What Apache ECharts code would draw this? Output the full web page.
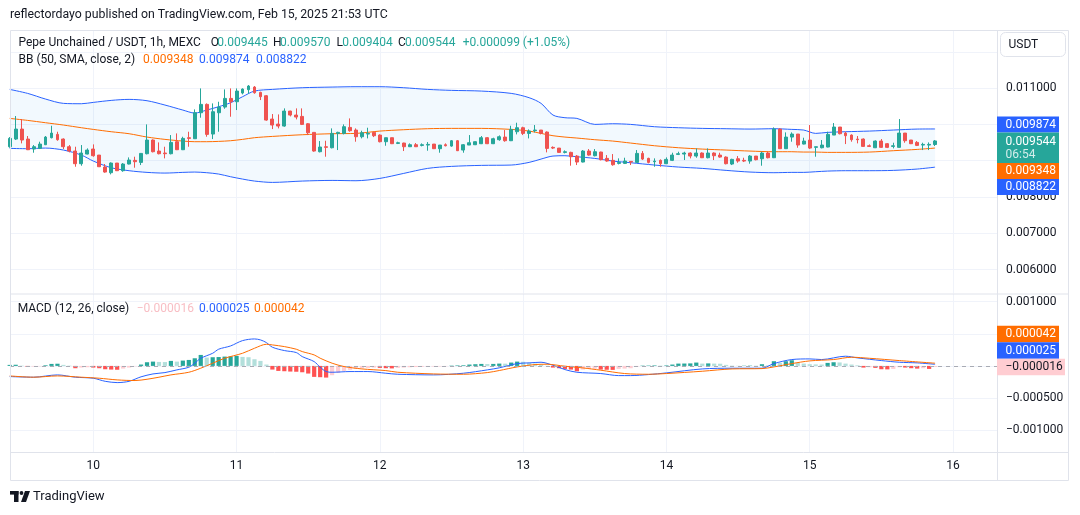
<!DOCTYPE html>
<html>
<head>
<meta charset="utf-8">
<title>Pepe Unchained / USDT, 1h, MEXC</title>
<script src="https://cdn.jsdelivr.net/npm/echarts@6/dist/echarts.min.js"></script>
<style>
html, body { margin: 0; padding: 0; background: #fff; }
#chart { width: 1080px; height: 515px; }
</style>
</head>
<body>
<div id="chart"></div>
<script>
// hours counted from Feb 10, 00:00; first candle is Feb 9, 10:00
const firstHour = -14;
const dayHours = [0, 24, 48, 72, 96, 120, 144];
const dayLabels = ['10', '11', '12', '13', '14', '15', '16'];
const priceTicks = [0.006, 0.007, 0.008, 0.009, 0.010, 0.011, 0.012];
const macdTicks = [-0.001, -0.0005, 0, 0.0005, 0.001];

const opens = [
  0.009385, 0.009596, 0.009871, 0.009596, 0.009321, 0.009339, 0.009440, 0.009633, 0.009725, 0.009596,
  0.009385, 0.009266, 0.008917, 0.009183, 0.009321, 0.009155, 0.008825, 0.008669, 0.008935, 0.008724,
  0.008908, 0.009009, 0.008953, 0.009192, 0.009569, 0.009266, 0.009211, 0.009192, 0.009523, 0.009302,
  0.009633, 0.009605, 0.010321, 0.010551, 0.009734, 0.010321, 0.010477, 0.010716, 0.010624, 0.010863,
  0.010955, 0.011028, 0.010881, 0.010789, 0.010147, 0.010009, 0.009954, 0.010367, 0.010257, 0.010220,
  0.010018, 0.009780, 0.009247, 0.009385, 0.009357, 0.009752, 0.009752, 0.009917, 0.009844, 0.009660,
  0.009734, 0.009780, 0.009706, 0.009523, 0.009633, 0.009477, 0.009486, 0.009385, 0.009440, 0.009422,
  0.009431, 0.009458, 0.009330, 0.009440, 0.009403, 0.009550, 0.009293, 0.009431, 0.009440, 0.009468,
  0.009633, 0.009468, 0.009578, 0.009651, 0.009550, 0.009798, 0.009908, 0.009752, 0.009826, 0.009844,
  0.009789, 0.009367, 0.009348, 0.009229, 0.009229, 0.009128, 0.008963, 0.009266, 0.009137, 0.009238,
  0.009064, 0.009009, 0.008926, 0.008926, 0.008981, 0.008953, 0.009201, 0.009064, 0.008972, 0.009009,
  0.008917, 0.009009, 0.009174, 0.009183, 0.009211, 0.009128, 0.009211, 0.009082, 0.009211, 0.009155,
  0.009100, 0.008908, 0.009054, 0.009009, 0.008990, 0.009128, 0.009054, 0.009211, 0.009082, 0.009871,
  0.009330, 0.009651, 0.009734, 0.009458, 0.009569, 0.009367, 0.009357, 0.009376, 0.009706, 0.009927,
  0.009761, 0.009706, 0.009596, 0.009596, 0.009412, 0.009357, 0.009541, 0.009468, 0.009394, 0.009367,
  0.009761, 0.009569, 0.009504, 0.009431, 0.009431, 0.009445
];
const closes = [
  0.009614, 0.009871, 0.009569, 0.009302, 0.009385, 0.009458, 0.009651, 0.009761, 0.009578, 0.009385,
  0.009266, 0.008917, 0.009211, 0.009293, 0.009137, 0.008834, 0.008687, 0.008935, 0.008724, 0.008908,
  0.009018, 0.008972, 0.009201, 0.009569, 0.009247, 0.009192, 0.009192, 0.009504, 0.009302, 0.009614,
  0.009614, 0.010321, 0.010551, 0.009725, 0.010349, 0.010477, 0.010716, 0.010624, 0.010918, 0.010973,
  0.011056, 0.010872, 0.010762, 0.010119, 0.009982, 0.009954, 0.010367, 0.010257, 0.010202, 0.010000,
  0.009770, 0.009266, 0.009376, 0.009367, 0.009752, 0.009780, 0.009936, 0.009826, 0.009660, 0.009770,
  0.009752, 0.009688, 0.009523, 0.009633, 0.009468, 0.009495, 0.009385, 0.009440, 0.009385, 0.009440,
  0.009449, 0.009330, 0.009431, 0.009412, 0.009550, 0.009275, 0.009440, 0.009495, 0.009523, 0.009633,
  0.009468, 0.009605, 0.009660, 0.009550, 0.009862, 0.009908, 0.009752, 0.009816, 0.009844, 0.009752,
  0.009339, 0.009348, 0.009229, 0.009247, 0.009110, 0.008963, 0.009266, 0.009155, 0.009247, 0.009027,
  0.008990, 0.008889, 0.008953, 0.008990, 0.008963, 0.009201, 0.009045, 0.008953, 0.008990, 0.008917,
  0.009036, 0.009155, 0.009192, 0.009211, 0.009128, 0.009211, 0.009082, 0.009211, 0.009137, 0.009100,
  0.008917, 0.009036, 0.008990, 0.008990, 0.009128, 0.009027, 0.009211, 0.009082, 0.009871, 0.009330,
  0.009651, 0.009734, 0.009431, 0.009541, 0.009348, 0.009385, 0.009431, 0.009725, 0.009927, 0.009743,
  0.009688, 0.009578, 0.009578, 0.009394, 0.009394, 0.009541, 0.009367, 0.009367, 0.009412, 0.009761,
  0.009550, 0.009468, 0.009422, 0.009449, 0.009449, 0.009544
];
const lows = [
  0.009357, 0.009569, 0.009477, 0.009293, 0.009220, 0.009321, 0.009431, 0.009614, 0.009550, 0.009321,
  0.009229, 0.008834, 0.008862, 0.009174, 0.009110, 0.008825, 0.008669, 0.008623, 0.008715, 0.008696,
  0.008898, 0.008807, 0.008880, 0.009174, 0.009229, 0.009174, 0.009064, 0.009174, 0.009293, 0.009293,
  0.009385, 0.009605, 0.010184, 0.009660, 0.009596, 0.009798, 0.010431, 0.010211, 0.010395, 0.010826,
  0.010845, 0.010845, 0.010670, 0.010101, 0.009871, 0.009890, 0.009936, 0.010220, 0.010138, 0.009982,
  0.009706, 0.009247, 0.009229, 0.009110, 0.009339, 0.009293, 0.009725, 0.009798, 0.009523, 0.009614,
  0.009614, 0.009651, 0.009504, 0.009412, 0.009458, 0.009458, 0.009266, 0.009376, 0.009376, 0.009394,
  0.009275, 0.009321, 0.009220, 0.009394, 0.009385, 0.009266, 0.009220, 0.009431, 0.009431, 0.009458,
  0.009458, 0.009458, 0.009550, 0.009523, 0.009541, 0.009725, 0.009706, 0.009614, 0.009780, 0.009725,
  0.009229, 0.009321, 0.009220, 0.009201, 0.008862, 0.008880, 0.008953, 0.009137, 0.009119, 0.009009,
  0.008972, 0.008862, 0.008898, 0.008908, 0.008880, 0.008944, 0.009018, 0.008926, 0.008834, 0.008834,
  0.008908, 0.008990, 0.009155, 0.009018, 0.009064, 0.009082, 0.009073, 0.009064, 0.009018, 0.009082,
  0.008898, 0.008880, 0.008944, 0.008963, 0.008917, 0.009009, 0.008862, 0.009064, 0.009073, 0.009321,
  0.009321, 0.009523, 0.009357, 0.009449, 0.009321, 0.009110, 0.009339, 0.009367, 0.009706, 0.009725,
  0.009458, 0.009523, 0.009477, 0.009385, 0.009376, 0.009348, 0.009357, 0.009348, 0.009339, 0.009357,
  0.009495, 0.009458, 0.009403, 0.009293, 0.009293, 0.009404
];
const highs = [
  0.009651, 0.010230, 0.010147, 0.009679, 0.009431, 0.009523, 0.009679, 0.009963, 0.009798, 0.009614,
  0.009431, 0.009385, 0.009431, 0.009339, 0.009449, 0.009155, 0.008908, 0.008953, 0.008935, 0.008935,
  0.009091, 0.009110, 0.009211, 0.010000, 0.009587, 0.009504, 0.009385, 0.009706, 0.009752, 0.009660,
  0.009798, 0.010413, 0.010991, 0.010578, 0.010578, 0.010624, 0.010964, 0.010991, 0.010991, 0.010991,
  0.011083, 0.011056, 0.010900, 0.010808, 0.010285, 0.010275, 0.010441, 0.010376, 0.010441, 0.010441,
  0.010037, 0.009780, 0.009541, 0.009550, 0.009890, 0.009798, 0.010000, 0.010165, 0.009890, 0.009826,
  0.009908, 0.009798, 0.009725, 0.009633, 0.009633, 0.009523, 0.009495, 0.009477, 0.009486, 0.009477,
  0.009513, 0.009458, 0.009431, 0.009477, 0.009569, 0.009569, 0.009458, 0.009706, 0.009532, 0.009679,
  0.009651, 0.009633, 0.009697, 0.009844, 0.009963, 0.010046, 0.009936, 0.009862, 0.009982, 0.009844,
  0.009807, 0.009394, 0.009348, 0.009284, 0.009247, 0.009155, 0.009293, 0.009321, 0.009321, 0.009247,
  0.009155, 0.009183, 0.009064, 0.009082, 0.008990, 0.009293, 0.009266, 0.009082, 0.009064, 0.009036,
  0.009091, 0.009220, 0.009247, 0.009247, 0.009229, 0.009339, 0.009229, 0.009339, 0.009229, 0.009220,
  0.009119, 0.009054, 0.009128, 0.009082, 0.009155, 0.009128, 0.009247, 0.009247, 0.009917, 0.009890,
  0.009780, 0.009780, 0.009734, 0.009633, 0.009982, 0.009385, 0.009569, 0.009798, 0.010037, 0.009927,
  0.009798, 0.009725, 0.009679, 0.009614, 0.009449, 0.009559, 0.009596, 0.009486, 0.009495, 0.010147,
  0.009761, 0.009569, 0.009541, 0.009495, 0.009504, 0.009570
];

// Bollinger bands (50, 2), read at these hours
const bbHours = [-14, -11, -8, -5, -2, 0, 3, 6, 9, 12, 15, 17, 19, 21, 23, 25, 27, 30, 35, 40,
  44, 48, 52, 56, 60, 65, 70, 73, 75, 77, 79, 81, 84, 87, 90, 94, 98, 102, 106, 110,
  114, 117, 119, 121, 123, 126, 130, 134, 138, 141];
const bbUpper = [0.010964, 0.010854, 0.010698, 0.010579, 0.010569, 0.010606, 0.010661, 0.010689, 0.010652, 0.010533,
  0.010395, 0.010312, 0.010395, 0.010487, 0.010597, 0.010762, 0.010918, 0.010964, 0.011010, 0.011028,
  0.011038, 0.011038, 0.011010, 0.010964, 0.010937, 0.010918, 0.010854, 0.010735, 0.010579, 0.010257,
  0.010184, 0.010165, 0.010000, 0.010018, 0.010000, 0.009936, 0.009908, 0.009890, 0.009881, 0.009871,
  0.009881, 0.009862, 0.009844, 0.009752, 0.009780, 0.009798, 0.009816, 0.009844, 0.009871, 0.009874];
const bbMid = [0.010165, 0.010110, 0.010046, 0.009982, 0.009908, 0.009862, 0.009798, 0.009743, 0.009651, 0.009587,
  0.009541, 0.009523, 0.009523, 0.009532, 0.009550, 0.009587, 0.009633, 0.009669, 0.009715, 0.009743,
  0.009752, 0.009816, 0.009853, 0.009881, 0.009890, 0.009890, 0.009862, 0.009816, 0.009752, 0.009688,
  0.009651, 0.009624, 0.009578, 0.009541, 0.009486, 0.009412, 0.009357, 0.009320, 0.009293, 0.009265,
  0.009247, 0.009247, 0.009238, 0.009238, 0.009229, 0.009229, 0.009238, 0.009275, 0.009311, 0.009348];
const bbLower = [0.009339, 0.009330, 0.009348, 0.009293, 0.009155, 0.008990, 0.008806, 0.008724, 0.008678, 0.008659,
  0.008678, 0.008687, 0.008669, 0.008632, 0.008558, 0.008494, 0.008439, 0.008402, 0.008439, 0.008457,
  0.008448, 0.008512, 0.008650, 0.008788, 0.008843, 0.008871, 0.008880, 0.008953, 0.009045, 0.009128,
  0.009137, 0.009109, 0.009063, 0.008990, 0.008944, 0.008880, 0.008825, 0.008788, 0.008733, 0.008687,
  0.008669, 0.008678, 0.008678, 0.008696, 0.008714, 0.008724, 0.008724, 0.008733, 0.008770, 0.008822];

// MACD histogram, one bar per candle
const histValues = [
  0.000016, 0.000018, 0.000005, -0.000016, -0.000010, -0.000005, 0.000010, 0.000031, 0.000034, 0.000016,
  0.000005, -0.000036, -0.000026, -0.000021, -0.000026, -0.000036, -0.000052, -0.000057, -0.000060, -0.000042,
  -0.000026, -0.000005, 0.000021, 0.000057, 0.000067, 0.000062, 0.000060, 0.000078, 0.000067, 0.000083,
  0.000093, 0.000119, 0.000171, 0.000130, 0.000135, 0.000138, 0.000145, 0.000148, 0.000156, 0.000140,
  0.000135, 0.000104, 0.000078, 0.000021, -0.000057, -0.000078, -0.000083, -0.000088, -0.000091, -0.000099,
  -0.000119, -0.000171, -0.000176, -0.000182, -0.000145, -0.000109, -0.000078, -0.000062, -0.000047, -0.000036,
  -0.000031, -0.000026, -0.000031, -0.000036, -0.000039, -0.000031, -0.000026, -0.000021, -0.000018, -0.000016,
  -0.000013, -0.000010, -0.000008, -0.000005, 0.000005, 0.000008, 0.000010, 0.000021, 0.000026, 0.000031,
  0.000029, 0.000031, 0.000036, 0.000035, 0.000052, 0.000067, 0.000065, 0.000047, 0.000036, 0.000021,
  0.000003, -0.000026, -0.000036, -0.000047, -0.000057, -0.000083, -0.000057, -0.000047, -0.000044, -0.000057,
  -0.000060, -0.000062, -0.000047, -0.000042, -0.000036, -0.000010, 0.000005, 0.000006, 0.000008, 0.000005,
  0.000008, 0.000021, 0.000036, 0.000037, 0.000039, 0.000052, 0.000036, 0.000039, 0.000036, 0.000034,
  0.000016, 0.000005, 0.000003, 0.000004, 0.000005, 0.000004, 0.000026, 0.000010, 0.000073, 0.000047,
  0.000073, 0.000088, 0.000047, 0.000036, 0.000026, 0.000023, 0.000021, 0.000047, 0.000057, 0.000054,
  0.000036, 0.000021, 0.000010, -0.000026, -0.000021, -0.000031, -0.000052, -0.000054, -0.000047, -0.000021,
  -0.000026, -0.000036, -0.000042, -0.000036, -0.000047, -0.000016
];

const macdHours = [-14, -10, -6, -3, 0, 2, 4, 6, 8, 10, 12, 14, 16, 17, 18, 20, 21, 23, 25, 27,
  28, 29, 30, 32, 34, 35, 37, 38, 39, 40, 43, 46, 49, 51, 57, 62, 66, 68, 71, 73,
  75, 77, 79, 81, 85, 88, 90, 93, 96, 102, 107, 112, 114, 117, 120, 122, 126, 128, 132, 135,
  138, 141];
const macdValues = [-0.000166, -0.000176, -0.000140, -0.000176, -0.000192, -0.000240, -0.000260, -0.000240, -0.000170, -0.000125,
  -0.000104, -0.000062, -0.000021, 0.000042, 0.000119, 0.000197, 0.000260, 0.000311, 0.000394, 0.000420,
  0.000405, 0.000363, 0.000291, 0.000239, 0.000208, 0.000145, 0.000067, -0.000021, -0.000088, -0.000099,
  -0.000088, -0.000088, -0.000114, -0.000130, -0.000140, -0.000114, -0.000062, -0.000030, 0.000036, 0.000047,
  0.000057, 0.000010, -0.000057, -0.000099, -0.000119, -0.000151, -0.000151, -0.000135, -0.000109, -0.000047,
  -0.000036, -0.000036, 0.000036, 0.000099, 0.000109, 0.000099, 0.000151, 0.000125, 0.000083, 0.000057,
  0.000047, 0.000025];

const signalHours = [-14, -10, -6, -2, 1, 4, 7, 9, 11, 13, 16, 18, 20, 22, 25, 27, 29, 30, 32, 34,
  35, 37, 38, 40, 42, 45, 49, 51, 57, 62, 66, 68, 71, 74, 76, 79, 82, 85, 89, 93,
  96, 102, 107, 112, 114, 117, 120, 124, 127, 130, 135, 141];
const signalValues = [-0.000156, -0.000176, -0.000156, -0.000176, -0.000192, -0.000218, -0.000228, -0.000208, -0.000176, -0.000140,
  -0.000099, -0.000036, 0.000042, 0.000119, 0.000197, 0.000275, 0.000337, 0.000327, 0.000301, 0.000260,
  0.000223, 0.000171, 0.000120, 0.000042, -0.000010, -0.000047, -0.000073, -0.000099, -0.000125, -0.000130,
  -0.000104, -0.000072, -0.000016, 0.000021, 0.000026, -0.000005, -0.000031, -0.000067, -0.000119, -0.000130,
  -0.000119, -0.000083, -0.000047, -0.000042, -0.000016, 0.000036, 0.000078, 0.000099, 0.000135, 0.000119,
  0.000083, 0.000042];

const FONT = 'Roboto, "Noto Sans", sans-serif';
const UP = '#26a69a', DOWN = '#ef5350', BLUE = '#2962ff', ORANGE = '#ff6d00';
const GRIDC = '#f0f3fa', FRAMEC = '#e0e3eb', TXT = '#131722';
const xMin = -13.95, xMax = 151.37;

const candles = opens.map((o, i) => [firstHour + i, o, closes[i], lows[i], highs[i]]);
const histData = histValues.map((v, i) => {
  const prev = i > 0 ? histValues[i - 1] : v;
  let c;
  if (v >= 0) c = v >= prev ? '#26a69a' : '#b2dfdb';
  else c = v < prev ? '#ff5252' : '#ffcdd2';
  return { value: [firstHour + i, v], itemStyle: { color: c } };
});
const pairs = (xs, ys) => xs.map((x, i) => [x, ys[i]]);

function fmt(v) {
  const s = Math.abs(v).toFixed(6);
  return v < -1e-12 ? '\u2212' + s : s;
}

const chart = echarts.init(document.getElementById('chart'));

function xAxisCfg(grid, showLabel) {
  return {
    type: 'value', gridIndex: grid, min: xMin, max: xMax,
    axisLine: { show: false },
    axisTick: { show: false, customValues: dayHours },
    axisLabel: {
      show: showLabel, customValues: dayHours, color: TXT, fontSize: 12, fontFamily: FONT, margin: 8,
      formatter: v => dayLabels[dayHours.indexOf(v)]
    },
    splitLine: { show: true, lineStyle: { color: GRIDC, width: 1 } }
  };
}

chart.setOption({
  animation: false,
  textStyle: { fontFamily: FONT },
  grid: [
    { left: 10, right: 83, top: 30, height: 263.5 },
    { left: 10, right: 83, top: 294, height: 158 }
  ],
  xAxis: [xAxisCfg(0, false), xAxisCfg(1, true)],
  yAxis: [
    {
      type: 'value', gridIndex: 0, position: 'right', min: 0.005342, max: 0.0126, scale: true,
      axisLine: { show: false },
      axisTick: { show: false, customValues: priceTicks },
      axisLabel: { customValues: priceTicks, color: TXT, fontSize: 12, fontFamily: FONT, margin: 9, formatter: fmt },
      splitLine: { show: true, lineStyle: { color: GRIDC } }
    },
    {
      type: 'value', gridIndex: 1, position: 'right', min: -0.001341, max: 0.00112,
      axisLine: { show: false },
      axisTick: { show: false, customValues: macdTicks },
      axisLabel: { customValues: macdTicks, color: TXT, fontSize: 12, fontFamily: FONT, margin: 9, formatter: fmt },
      splitLine: { show: true, lineStyle: { color: GRIDC } }
    }
  ],
  series: [
    {
      name: 'BB fill', type: 'custom', xAxisIndex: 0, yAxisIndex: 0, silent: true, clip: true, z: 1,
      data: [[bbHours[0], bbMid[0]]],
      renderItem: (params, api) => {
        const pts = [];
        for (let i = 0; i < bbHours.length; i++) pts.push(api.coord([bbHours[i], bbUpper[i]]));
        for (let i = bbHours.length - 1; i >= 0; i--) pts.push(api.coord([bbHours[i], bbLower[i]]));
        return { type: 'polygon', shape: { points: pts }, style: { fill: 'rgba(33,150,243,0.06)' } };
      }
    },
    { name: 'Upper', type: 'line', xAxisIndex: 0, yAxisIndex: 0, data: pairs(bbHours, bbUpper), showSymbol: false, smooth: 0.3, z: 2,
      lineStyle: { color: BLUE, width: 1 } },
    { name: 'Lower', type: 'line', xAxisIndex: 0, yAxisIndex: 0, data: pairs(bbHours, bbLower), showSymbol: false, smooth: 0.3, z: 2,
      lineStyle: { color: BLUE, width: 1 } },
    { name: 'Basis', type: 'line', xAxisIndex: 0, yAxisIndex: 0, data: pairs(bbHours, bbMid), showSymbol: false, smooth: 0.3, z: 2,
      lineStyle: { color: ORANGE, width: 1 } },
    {
      name: 'PEPU', type: 'candlestick', xAxisIndex: 0, yAxisIndex: 0, data: candles, z: 5,
      encode: { x: 0, y: [1, 2, 3, 4] }, barWidth: 3.4, clip: true,
      itemStyle: { color: UP, color0: DOWN, borderColor: UP, borderColor0: DOWN, borderWidth: 1 }
    },
    {
      name: 'Histogram', type: 'bar', xAxisIndex: 1, yAxisIndex: 1, data: histData, barWidth: 4.2, z: 3,
      markLine: {
        silent: true, symbol: ['none', 'none'], label: { show: false },
        lineStyle: { color: '#a8abb4', type: [4, 4], width: 1 },
        data: [{ yAxis: 0 }]
      }
    },
    { name: 'MACD', type: 'line', xAxisIndex: 1, yAxisIndex: 1, data: pairs(macdHours, macdValues), showSymbol: false, smooth: 0.3, z: 4,
      lineStyle: { color: BLUE, width: 1 } },
    { name: 'Signal', type: 'line', xAxisIndex: 1, yAxisIndex: 1, data: pairs(signalHours, signalValues), showSymbol: false, smooth: 0.3, z: 4,
      lineStyle: { color: ORANGE, width: 1 } }
  ]
});

// overlay: frame, legends, price badges
function txt(x, y, s, color, size, weight) {
  return { type: 'text', x: x, y: y, z: 100,
    style: { text: s, fill: color, fontSize: size || 12, fontFamily: FONT, fontWeight: weight || 'normal', align: 'left', verticalAlign: 'middle' } };
}
function line(x1, y1, x2, y2, c) {
  return { type: 'line', z: 90, shape: { x1: x1, y1: y1, x2: x2, y2: y2 }, style: { stroke: c || FRAMEC, lineWidth: 1 } };
}
function badge(top, h, w, bg, label, fg) {
  return [
    { type: 'rect', z: 110, shape: { x: 997, y: top, width: w, height: h }, style: { fill: bg } },
    { type: 'text', z: 111, x: 1005.5, y: top + h / 2 + 0.5,
      style: { text: label, fill: fg, fontSize: 12, fontFamily: FONT, align: 'left', verticalAlign: 'middle' } }
  ];
}

const py = v => chart.convertToPixel({ yAxisIndex: 0 }, v);
const my = v => chart.convertToPixel({ yAxisIndex: 1 }, v);
const lastClose = closes[closes.length - 1];
const lastUpper = bbUpper[bbUpper.length - 1];
const lastMid = bbMid[bbMid.length - 1];
const lastLower = bbLower[bbLower.length - 1];
const lastHist = histValues[histValues.length - 1];
const lastMacd = macdValues[macdValues.length - 1];
const lastSignal = signalValues[signalValues.length - 1];

const gTop = py(lastClose) - 8.5, gH = 30.5, bh = 16;
const upTop = Math.min(py(lastUpper) - bh / 2, gTop - bh);
const midTop = Math.max(py(lastMid) - bh / 2, gTop + gH);
const lowTop = Math.max(py(lastLower) - bh / 2, midTop + bh);
const hTop = my(lastHist) - 8.25, mh = 16.5;
const mTop = Math.min(my(lastMacd) - mh / 2, hTop - mh);
const sTop = Math.min(my(lastSignal) - mh / 2, mTop - mh);

const g = [];
g.push({ type: 'rect', z: 90, shape: { x: 10.5, y: 30.5, width: 1058, height: 450 }, style: { fill: 'none', stroke: FRAMEC, lineWidth: 1 } });
g.push(line(997.5, 30, 997.5, 480));
g.push(line(10, 294, 1068, 294));
g.push(line(10, 452.5, 1068, 452.5));

g.push(txt(10, 15, 'reflectordayo published on TradingView.com, Feb 15, 2025 21:53 UTC', TXT, 12.3));
g.push(txt(18.5, 42.5, 'Pepe Unchained / USDT, 1h, MEXC', TXT));
g.push(txt(210.8, 42.5, 'O', TXT));
g.push(txt(217.3, 42.5, opens[opens.length - 1].toFixed(6), UP));
g.push(txt(273, 42.5, 'H', TXT));
g.push(txt(280, 42.5, highs[highs.length - 1].toFixed(6), UP));
g.push(txt(336.5, 42.5, 'L', TXT));
g.push(txt(342.3, 42.5, lows[lows.length - 1].toFixed(6), UP));
g.push(txt(398, 42.5, 'C', TXT));
g.push(txt(405, 42.5, lastClose.toFixed(6), UP));
g.push(txt(462.7, 42.5, '+0.000099 (+1.05%)', UP));
g.push(txt(18.5, 59.5, 'BB (50, SMA, close, 2)', TXT));
g.push(txt(143, 59.5, lastMid.toFixed(6), ORANGE));
g.push(txt(199, 59.5, lastUpper.toFixed(6), BLUE));
g.push(txt(256, 59.5, lastLower.toFixed(6), BLUE));
g.push(txt(17.7, 309, 'MACD (12, 26, close)', TXT));
g.push(txt(136.7, 309, fmt(lastHist), '#f8bec4'));
g.push(txt(199, 309, fmt(lastMacd), BLUE));
g.push(txt(254, 309, fmt(lastSignal), ORANGE));

// USDT button
g.push({ type: 'rect', z: 105, shape: { x: 1000.5, y: 32.5, width: 65, height: 24, r: 5 }, style: { fill: '#fff', stroke: FRAMEC, lineWidth: 1 } });
g.push({ type: 'text', z: 106, x: 1008.5, y: 45, style: { text: 'USDT', fill: TXT, fontSize: 12, fontFamily: FONT, verticalAlign: 'middle' } });

// price badges
g.push(...badge(upTop, bh, 62, BLUE, fmt(lastUpper), '#fff'));
g.push({ type: 'rect', z: 110, shape: { x: 997, y: gTop, width: 62, height: gH }, style: { fill: UP } });
g.push({ type: 'text', z: 111, x: 1005.5, y: gTop + 9.5, style: { text: fmt(lastClose), fill: '#fff', fontSize: 12, fontFamily: FONT, verticalAlign: 'middle' } });
g.push({ type: 'text', z: 111, x: 1005.5, y: gTop + 22.5, style: { text: '06:54', fill: 'rgba(255,255,255,0.8)', fontSize: 12, fontFamily: FONT, verticalAlign: 'middle' } });
g.push(...badge(midTop, bh, 62, ORANGE, fmt(lastMid), '#fff'));
g.push(...badge(lowTop, bh, 62, BLUE, fmt(lastLower), '#fff'));
// MACD badges
g.push(...badge(sTop, mh, 62, ORANGE, fmt(lastSignal), '#fff'));
g.push(...badge(mTop, mh, 62, BLUE, fmt(lastMacd), '#fff'));
g.push(...badge(hTop, mh, 68, '#ffcdd2', fmt(lastHist), TXT));

// TradingView logo
g.push({ type: 'rect', z: 100, shape: { x: 10, y: 491, width: 8.5, height: 3.6 }, style: { fill: TXT } });
g.push({ type: 'rect', z: 100, shape: { x: 14, y: 491, width: 4.5, height: 11 }, style: { fill: TXT } });
g.push({ type: 'circle', z: 100, shape: { cx: 21.5, cy: 493, r: 1.9 }, style: { fill: TXT } });
g.push({ type: 'polygon', z: 100, shape: { points: [[25, 491], [30, 491], [26, 502], [21, 502]] }, style: { fill: TXT } });
g.push(txt(33, 497, 'TradingView', TXT, 13));

chart.setOption({ graphic: g });
</script>
</body>
</html>
